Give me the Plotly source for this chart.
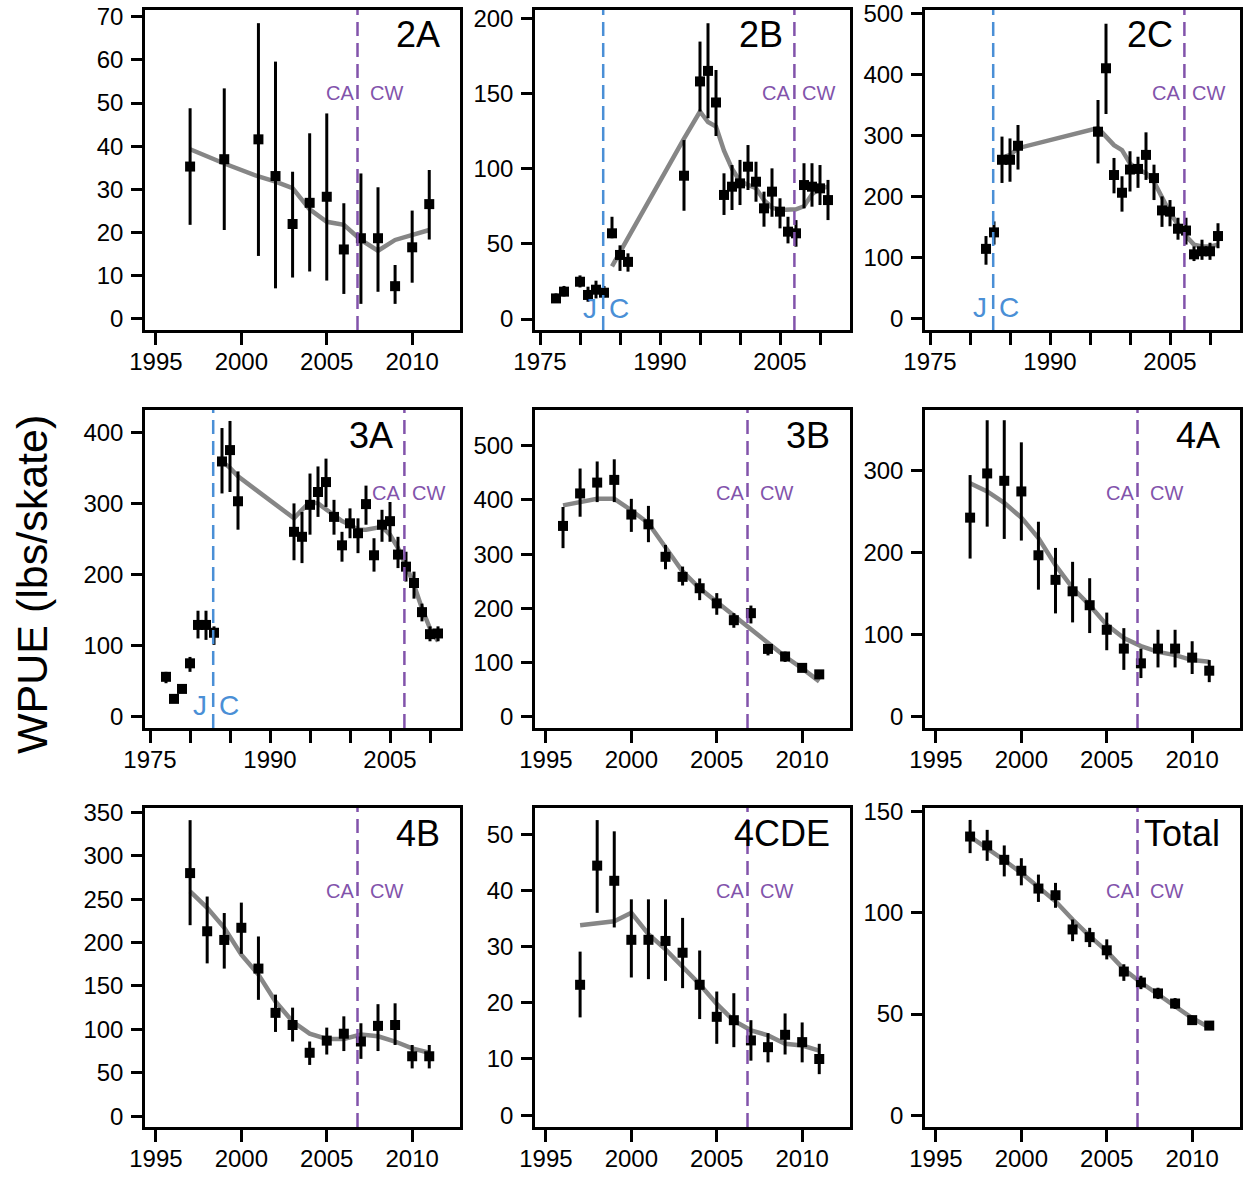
import plotly.graph_objects as go

# ---------------- data ----------------
# 2A
yr_2A = [1997, 1999, 2001, 2002, 2003, 2004, 2005, 2006, 2007, 2008, 2009, 2010, 2011]
wpue_2A = [35.3, 37.0, 41.6, 33.1, 22.0, 26.9, 28.3, 16.1, 18.7, 18.7, 7.6, 16.6, 26.6]
lo_2A = [21.8, 20.6, 14.6, 7.1, 9.6, 11.0, 8.9, 5.8, 3.5, 6.3, 3.5, 8.4, 18.4]
hi_2A = [48.8, 53.4, 68.5, 59.6, 34.1, 43.0, 47.6, 26.8, 33.7, 30.5, 12.5, 25.1, 34.5]
fit_yr_2A = [1997, 1999, 2001, 2002, 2003, 2004, 2005, 2006, 2007, 2008, 2009, 2010, 2011]
fit_2A = [39.3, 36.0, 33.0, 31.8, 30.3, 25.4, 22.5, 21.8, 18.3, 15.8, 18.3, 19.4, 20.6]

# 2B
yr_2B = [1977, 1978, 1980, 1981, 1982, 1983, 1984, 1985, 1986, 1993, 1995, 1996, 1997,
         1998, 1999, 2000, 2001, 2002, 2003, 2004, 2005, 2006, 2007, 2008, 2009, 2010, 2011]
wpue_2B = [13.7, 18.2, 24.8, 16.0, 19.5, 17.5, 57.0, 42.6, 38.0, 95.3, 158, 165, 144,
           82.5, 88.0, 90.2, 101.3, 91.3, 73.6, 84.7, 71.4, 58.1, 57.0, 89.1, 88.0, 86.9, 79.1]
lo_2B = [11.5, 15.0, 21.0, 11.5, 13.7, 14.4, 53.7, 32.0, 31.5, 72.0, 138, 133.5, 121.7,
         69.2, 72.5, 75.8, 85.8, 78.0, 61.4, 68.0, 60.3, 50.3, 48.1, 73.6, 74.7, 75.8, 65.8]
hi_2B = [17.0, 22.0, 29.0, 21.5, 25.5, 22.0, 68.0, 49.0, 43.7, 119, 184.5, 196.7, 165.6,
         96.9, 102.4, 105.8, 115.7, 104.6, 84.7, 100.2, 80.3, 68.0, 65.8, 103.6, 103.6, 102.4, 92.5]
fit_yr_2B = [1984, 1985, 1986, 1993, 1995, 1996, 1997, 1998, 1999, 2000, 2001, 2002, 2003,
             2004, 2005, 2006, 2007, 2008, 2009, 2010, 2011]
fit_2B = [35, 44, 54, 120, 138, 131, 128, 112, 100, 91.5, 89, 87, 79, 74, 72.5, 72.5, 73,
          75, 83, 87, 88]

# 2C
yr_2C = [1982, 1983, 1984, 1985, 1986, 1996, 1997, 1998, 1999, 2000, 2001, 2002, 2003,
         2004, 2005, 2006, 2007, 2008, 2009, 2010, 2011]
wpue_2C = [114, 141, 260, 260, 283, 306, 410, 235, 206, 244, 245, 268, 230, 177, 175, 147,
           144, 105, 110, 110, 135]
lo_2C = [88, 121, 222, 224, 244, 254, 335, 205, 175, 208, 214, 227, 194, 150, 151, 129,
         121, 94, 96, 96, 115]
hi_2C = [135, 159, 298, 295, 317, 358, 483, 263, 233, 274, 265, 305, 252, 200, 194, 165,
         165, 118, 129, 124, 156]
fit_yr_2C = [1984, 1985, 1986, 1996, 1997, 1998, 1999, 2000, 2001, 2002, 2003, 2004, 2005,
             2006, 2007, 2008, 2009, 2010, 2011]
fit_2C = [263, 268, 279, 312, 298, 284, 276, 254, 244, 238, 224, 200, 173, 154, 135, 121,
          118, 118, 121]

# 3A
yr_3A = [1977, 1978, 1979, 1980, 1981, 1982, 1983, 1984, 1985, 1986, 1993, 1994, 1995,
         1996, 1997, 1998, 1999, 2000, 2001, 2002, 2003, 2004, 2005, 2006, 2007, 2008,
         2009, 2010, 2011]
wpue_3A = [56, 25, 39, 75, 129, 129, 118, 359, 375, 303, 260, 253, 298, 316, 330, 281, 241,
           272, 258, 299, 227, 270, 275, 228, 211, 188, 147, 116, 117]
lo_3A = [47, 21, 34, 63, 110, 108, 101, 314, 316, 263, 220, 216, 256, 281, 295, 256, 218,
         251, 230, 270, 204, 246, 246, 209, 190, 166, 134, 106, 106]
hi_3A = [63, 28, 44, 84, 149, 149, 127, 406, 416, 345, 300, 288, 342, 352, 363, 305, 260,
         293, 279, 325, 251, 291, 302, 253, 232, 204, 159, 127, 127]
fit_yr_3A = [1984, 1985, 1986, 1993, 1994, 1995, 1996, 1997, 1998, 1999, 2000, 2001, 2002,
             2003, 2004, 2005, 2006, 2007, 2008, 2009, 2010, 2011]
fit_3A = [359, 350, 338, 279, 291, 302, 300, 291, 284, 275, 270, 263, 263, 265, 267, 256,
          237, 213, 185, 152, 124, 106]

# 3B
yr_3B = list(range(1996, 2012))
wpue_3B = [352, 412, 432, 437, 373, 355, 295, 258, 237, 209, 178, 191, 125, 111, 90, 78]
lo_3B = [311, 369, 396, 396, 341, 322, 272, 242, 215, 188, 164, 172, 113, 101, 83, 71]
hi_3B = [387, 458, 471, 475, 402, 389, 317, 277, 255, 228, 191, 205, 134, 120, 96, 86]
fit_yr_3B = list(range(1996, 2012))
fit_3B = [390, 396, 402, 402, 381, 357, 311, 268, 237, 212, 185, 160, 135, 111, 89, 65]

# 4A
yr_4A = list(range(1997, 2012))
wpue_4A = [243, 297, 288, 275, 197, 167, 153, 136, 106, 83, 65, 83, 83, 72, 56]
lo_4A = [193, 232, 217, 215, 155, 126, 115, 102, 81, 57, 47, 60, 60, 52, 42]
hi_4A = [295, 362, 362, 335, 238, 206, 189, 169, 127, 108, 83, 106, 106, 92, 69]
fit_yr_4A = list(range(1997, 2012))
fit_4A = [285, 275, 261, 243, 218, 185, 157, 136, 112, 96, 86, 79, 75, 69, 67]

# 4B
yr_4B = list(range(1997, 2012))
wpue_4B = [280, 213, 203, 217, 170, 119, 105, 73, 87, 95, 86, 104, 105, 69, 69]
lo_4B = [220, 176, 170, 187, 134, 97, 86, 59, 71, 75, 66, 75, 82, 55, 55]
hi_4B = [341, 253, 234, 246, 207, 140, 125, 86, 102, 115, 107, 129, 130, 82, 82]
fit_yr_4B = list(range(1997, 2012))
fit_4B = [259, 240, 217, 186, 163, 132, 109, 95, 89, 89, 94, 92, 86, 78, 73]

# 4CDE
yr_4CDE = list(range(1997, 2012))
wpue_4CDE = [23.2, 44.4, 41.7, 31.2, 31.2, 31.0, 28.9, 23.2, 17.5, 16.9, 13.3, 12.1, 14.3, 13.0, 10.0]
lo_4CDE = [17.4, 36.0, 33.4, 24.5, 24.2, 23.9, 22.6, 17.1, 12.7, 12.1, 9.7, 9.4, 10.8, 9.4, 7.3]
hi_4CDE = [29.1, 52.5, 50.5, 38.4, 38.4, 38.4, 35.1, 29.3, 22.0, 21.7, 16.9, 14.6, 18.1, 16.5, 12.7]
fit_yr_4CDE = list(range(1997, 2012))
fit_4CDE = [33.8, 34.2, 34.5, 36.0, 32.2, 29.5, 26.3, 23.3, 19.8, 16.8, 15.1, 14.2, 12.7, 12.4, 11.5]

# Total
yr_T = list(range(1997, 2012))
wpue_T = [137.7, 133.3, 126.2, 120.8, 112.0, 108.7, 91.8, 88.0, 81.5, 71.0, 65.6, 60.2, 55.2, 47.0, 44.3]
lo_T = [129.5, 125.7, 118.0, 113.6, 105.4, 102.5, 86.0, 83.1, 77.0, 66.4, 62.3, 57.4, 52.5, 45.2, 42.2]
hi_T = [145.9, 141.0, 133.3, 127.0, 118.9, 114.8, 96.7, 92.6, 86.9, 74.6, 68.9, 63.0, 57.9, 49.2, 46.4]
fit_yr_T = list(range(1997, 2012))
fit_T = [137.7, 132.0, 126.0, 119.7, 113.0, 105.7, 96.7, 88.5, 81.1, 72.1, 65.6, 59.8, 54.1, 48.0, 43.4]

panel_names = ["2A", "2B", "2C", "3A", "3B", "4A", "4B", "4CDE", "Total"]
ytick_max = [70, 200, 500, 400, 500, 300, 350, 50, 150]
ytick_step = [10, 50, 100, 100, 100, 100, 50, 10, 50]
long_series = [False, True, True, True, False, False, False, False, False]
jc_year = 1982.9
cacw_year = 2006.8

series = [
    (yr_2A, wpue_2A, lo_2A, hi_2A, fit_yr_2A, fit_2A),
    (yr_2B, wpue_2B, lo_2B, hi_2B, fit_yr_2B, fit_2B),
    (yr_2C, wpue_2C, lo_2C, hi_2C, fit_yr_2C, fit_2C),
    (yr_3A, wpue_3A, lo_3A, hi_3A, fit_yr_3A, fit_3A),
    (yr_3B, wpue_3B, lo_3B, hi_3B, fit_yr_3B, fit_3B),
    (yr_4A, wpue_4A, lo_4A, hi_4A, fit_yr_4A, fit_4A),
    (yr_4B, wpue_4B, lo_4B, hi_4B, fit_yr_4B, fit_4B),
    (yr_4CDE, wpue_4CDE, lo_4CDE, hi_4CDE, fit_yr_4CDE, fit_4CDE),
    (yr_T, wpue_T, lo_T, hi_T, fit_yr_T, fit_T),
]

# ---------------- layout geometry ----------------
W, H = 1248, 1177
col_px = [(145, 460), (535, 850), (925, 1240)]
row_px = [(10, 330), (410, 728), (808, 1127)]
yranges = [(-2.55, 71.55), (-7.3, 205.5), (-19, 505.5), (-16, 431.4), (-21, 566),
           (-14, 374.5), (-12.5, 355), (-2.1, 54.65), (-5.8, 151.8)]

FONT = "Liberation Sans, Arial, sans-serif"
BLUE = "#4a8fd6"
PURPLE = "#8253ab"


def px(x):
    return x / W


def py(y):
    return 1 - y / H


fig = go.Figure()
layout = dict(
    width=W, height=H, autosize=False, margin=dict(l=0, r=0, t=0, b=0, pad=0),
    paper_bgcolor="white", plot_bgcolor="white", showlegend=False,
    font=dict(family=FONT, color="black"),
)
annotations = []
shapes = []

for i, name in enumerate(panel_names):
    r, c = divmod(i, 3)
    n = i + 1
    xs = "x" if n == 1 else f"x{n}"
    ys = "y" if n == 1 else f"y{n}"
    yr, val, lo, hi, fyr, fit = series[i]

    fig.add_trace(go.Scatter(x=fyr, y=fit, mode="lines", xaxis=xs, yaxis=ys,
                             line=dict(color="#868686", width=4.5), hoverinfo="skip"))
    fig.add_trace(go.Scatter(
        x=yr, y=val, mode="markers", xaxis=xs, yaxis=ys,
        marker=dict(symbol="square", size=10, color="black"),
        error_y=dict(type="data", symmetric=False,
                     array=[h - v for h, v in zip(hi, val)],
                     arrayminus=[v - l for v, l in zip(val, lo)],
                     color="black", thickness=3, width=0)))

    x0, x1 = col_px[c]
    y0, y1 = row_px[r]
    if long_series[i]:
        xr = [1974.375, 2013.75]
        xt = list(range(1975, 2011, 5))
        xtt = [str(v) if v in (1975, 1990, 2005) else "" for v in xt]
        lab_right = x1 - 65
    else:
        xr = [1994.36, 2012.8]
        xt = [1995, 2000, 2005, 2010]
        xtt = [str(v) for v in xt]
        lab_right = x1 - 18
    yt = list(range(0, ytick_max[i] + 1, ytick_step[i]))

    axis_common = dict(showline=True, mirror=True, linecolor="black", linewidth=2.5,
                       ticks="outside", tickwidth=2.5, tickcolor="black",
                       showgrid=False, zeroline=False, automargin=False,
                       ticklabeloverflow="allow",
                       tickfont=dict(family=FONT, size=24, color="black"))
    layout["xaxis" if n == 1 else f"xaxis{n}"] = dict(
        domain=[px(x0), px(x1)], range=xr, tickmode="array", tickvals=xt, ticktext=xtt,
        ticklen=12, anchor=ys, ticklabelstandoff=-4, **axis_common)
    layout["yaxis" if n == 1 else f"yaxis{n}"] = dict(
        domain=[py(y1), py(y0)], range=list(yranges[i]), tickmode="array", tickvals=yt,
        ticktext=[str(v) for v in yt], ticklen=11, anchor=xs, ticklabelstandoff=3,
        **axis_common)

    # dashed vertical lines
    shapes.append(dict(type="line", xref=xs, yref=f"{ys} domain", x0=cacw_year, x1=cacw_year,
                       y0=0, y1=1, line=dict(color=PURPLE, width=2.5, dash="14px,7px")))
    if long_series[i]:
        shapes.append(dict(type="line", xref=xs, yref=f"{ys} domain", x0=jc_year, x1=jc_year,
                           y0=0, y1=1, line=dict(color=BLUE, width=2.5, dash="14px,7px")))
        annotations.append(dict(x=jc_year, y=0, xref=xs, yref=ys, text="J", showarrow=False,
                                xanchor="right", yanchor="middle", xshift=-4, yshift=11,
                                font=dict(family=FONT, size=28, color=BLUE)))
        annotations.append(dict(x=jc_year, y=0, xref=xs, yref=ys, text="C", showarrow=False,
                                xanchor="left", yanchor="middle", xshift=4, yshift=11,
                                font=dict(family=FONT, size=28, color=BLUE)))
        cw_shift = 6
    else:
        cw_shift = 10
    annotations.append(dict(x=cacw_year, y=py(y0 + 83), xref=xs, yref="paper", text="CA",
                            showarrow=False, xanchor="right", yanchor="middle", xshift=-2,
                            font=dict(family=FONT, size=20, color=PURPLE)))
    annotations.append(dict(x=cacw_year, y=py(y0 + 83), xref=xs, yref="paper", text="CW",
                            showarrow=False, xanchor="left", yanchor="middle", xshift=cw_shift,
                            font=dict(family=FONT, size=20, color=PURPLE)))
    # panel label
    annotations.append(dict(x=px(lab_right), y=py(y0 + 25), xref="paper", yref="paper",
                            text=name, showarrow=False, xanchor="right", yanchor="middle",
                            font=dict(family=FONT, size=36, color="black")))

annotations.append(dict(x=px(32), y=py(585), xref="paper", yref="paper",
                        text="WPUE (lbs/skate)", textangle=-90, showarrow=False,
                        xanchor="center", yanchor="middle",
                        font=dict(family=FONT, size=43, color="black")))

layout["annotations"] = annotations
layout["shapes"] = shapes
fig.update_layout(**layout)
# remove the default page margin so the figure fills the window exactly
fig.write_html("out.html", config={"displayModeBar": False},
               post_script="document.body.style.margin='0';document.body.style.overflow='hidden';")
